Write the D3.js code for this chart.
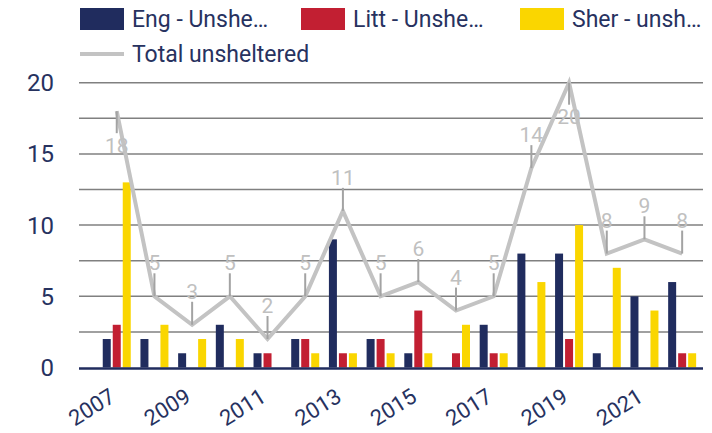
<!DOCTYPE html>
<html>
<head>
<meta charset="utf-8">
<script src="https://cdn.jsdelivr.net/npm/d3@7"></script>
<style>
  body { margin: 0; background: #fff; }
  svg { display: block; font-family: Roboto, "Noto Sans", sans-serif; }
</style>
</head>
<body>
<svg id="chart" width="712" height="433"></svg>
<script>
// data
var years = ["2007","2008","2009","2010","2011","2012","2013","2014","2015","2016","2017","2018","2019","2020","2021","2022"];
var eng   = [2, 2, 1, 3, 1, 2, 9, 2, 1, 0, 3, 8, 8, 1, 5, 6];
var litt  = [3, 0, 0, 0, 1, 2, 1, 2, 4, 1, 1, 0, 2, 0, 0, 1];
var sher  = [13, 3, 2, 2, 0, 1, 1, 1, 1, 3, 1, 6, 10, 7, 4, 1];
var total = [18, 5, 3, 5, 2, 5, 11, 5, 6, 4, 5, 14, 20, 8, 9, 8];
var yTicks = [0, 5, 10, 15, 20];
var gridVals = [2.5, 5, 7.5, 10, 12.5, 15, 17.5, 20];
var xLabels = ["2007","2009","2011","2013","2015","2017","2019","2021"];

var seriesNames = ["Eng - Unshe\u2026", "Litt - Unshe\u2026", "Sher - unsh\u2026"];
var colors = ["#202c5e", "#c21f32", "#fad600"];
var navy = "#27325f";

var svg = d3.select("#chart");

var plotLeft = 79, plotRight = 703;

var x = d3.scaleBand().domain(years).range([97.9, 701]);
var x1 = d3.scaleBand().domain([0, 1, 2]).range([-14, 14]).paddingInner(0.2);
var y = d3.scaleLinear().domain([0, 20]).range([367.5, 82.7]);

var cx = function (d) { return x(d) + x.bandwidth() / 2; };

// gridlines
svg.append("g")
    .selectAll("line")
    .data(gridVals)
    .enter().append("line")
    .attr("x1", plotLeft)
    .attr("x2", plotRight)
    .attr("y1", function (d) { return y(d); })
    .attr("y2", function (d) { return y(d); })
    .attr("stroke", "#808080")
    .attr("stroke-width", 1.5);

// y axis labels
svg.append("g")
    .selectAll("text")
    .data(yTicks)
    .enter().append("text")
    .attr("x", 54)
    .attr("y", function (d) { return y(d); })
    .attr("dy", "0.35em")
    .attr("text-anchor", "end")
    .attr("font-size", 24)
    .attr("fill", navy)
    .text(function (d) { return d; });

// bars
var rows = years.map(function (yr, i) {
    return { year: yr, vals: [eng[i], litt[i], sher[i]] };
});

var groups = svg.append("g")
    .selectAll("g")
    .data(rows)
    .enter().append("g")
    .attr("transform", function (d) { return "translate(" + cx(d.year) + ",0)"; });

groups.selectAll("rect")
    .data(function (d) { return d.vals.map(function (v, k) { return { k: k, v: v }; }); })
    .enter().append("rect")
    .filter(function (d) { return d.v > 0; })
    .attr("x", function (d) { return x1(d.k); })
    .attr("width", x1.bandwidth())
    .attr("y", function (d) { return y(d.v); })
    .attr("height", function (d) { return y(0) - y(d.v); })
    .attr("fill", function (d) { return colors[d.k]; });

// zero axis line
svg.append("line")
    .attr("x1", plotLeft)
    .attr("x2", plotRight)
    .attr("y1", 368.5)
    .attr("y2", 368.5)
    .attr("stroke", "#202c5e")
    .attr("stroke-width", 2.5);

// x labels, every other year, centred under a slant
svg.append("g")
    .selectAll("text")
    .data(xLabels)
    .enter().append("text")
    .attr("transform", function (d) {
        return "translate(" + (cx(d) - 25) + ",407) rotate(-32)";
    })
    .attr("text-anchor", "middle")
    .attr("dy", "0.35em")
    .attr("font-size", 22)
    .attr("fill", navy)
    .text(function (d) { return d; });

// total line
var pts = years.map(function (yr, i) { return { year: yr, v: total[i] }; });

svg.append("path")
    .datum(pts)
    .attr("fill", "none")
    .attr("stroke", "#c3c3c3")
    .attr("stroke-width", 4)
    .attr("stroke-linejoin", "miter")
    .attr("d", d3.line()
        .x(function (d) { return cx(d.year); })
        .y(function (d) { return y(d.v); }));

// data labels with leader lines (18 and 20 sit below the point)
var below = function (d) { return d.v >= 18; };

svg.append("g")
    .selectAll("line")
    .data(pts)
    .enter().append("line")
    .attr("x1", function (d) { return cx(d.year); })
    .attr("x2", function (d) { return cx(d.year); })
    .attr("y1", function (d) { return y(d.v); })
    .attr("y2", function (d) { return below(d) ? y(d.v) + 22 : y(d.v) - 23; })
    .attr("stroke", "#a3a3a3")
    .attr("stroke-width", 2);

svg.append("g")
    .selectAll("text")
    .data(pts)
    .enter().append("text")
    .attr("x", function (d) { return cx(d.year); })
    .attr("y", function (d) { return below(d) ? y(d.v) + 41.5 : y(d.v) - 26; })
    .attr("text-anchor", "middle")
    .attr("font-size", 21)
    .attr("fill", "#c0c0c0")
    .text(function (d) { return d.v; });

// legend
var legendPos = [[80, 19], [301, 19], [520, 19]];
var leg = svg.append("g");
seriesNames.forEach(function (name, k) {
    var p = legendPos[k];
    leg.append("rect")
        .attr("x", p[0]).attr("y", p[1] - 11)
        .attr("width", 44).attr("height", 22)
        .attr("fill", colors[k]);
    leg.append("text")
        .attr("x", p[0] + 52).attr("y", p[1])
        .attr("dy", "0.35em")
        .attr("font-size", 23)
        .attr("fill", navy)
        .text(name);
});
leg.append("line")
    .attr("x1", 80).attr("x2", 124)
    .attr("y1", 54).attr("y2", 54)
    .attr("stroke", "#c3c3c3")
    .attr("stroke-width", 4);
leg.append("text")
    .attr("x", 132).attr("y", 54)
    .attr("dy", "0.35em")
    .attr("font-size", 23)
    .attr("fill", navy)
    .text("Total unsheltered");
</script>
</body>
</html>
